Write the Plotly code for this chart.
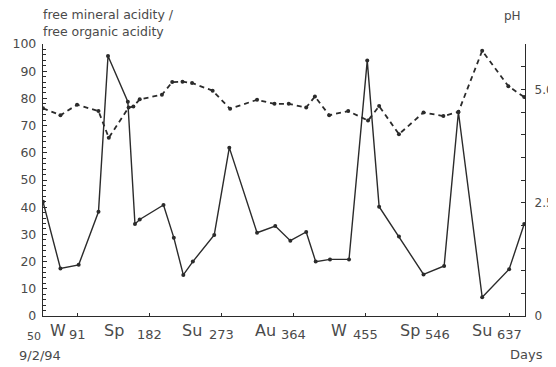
import plotly.graph_objects as go

# ---- data ----
days_acid = [48, 70, 93, 118, 130, 155, 164, 170, 200, 213, 225, 237, 264, 283, 318,
             341, 360, 380, 392, 410, 434, 457, 472, 497, 528, 554, 572, 602, 636, 655]
acid_ratio = [42.0, 17.5, 18.8, 38.3, 95.6, 78.8, 33.8, 35.5, 40.8, 28.8, 15.1, 20.0, 29.8,
              61.9, 30.6, 33.1, 27.7, 30.9, 20.0, 20.8, 20.8, 93.9, 40.2, 29.2, 15.3, 18.4,
              75.0, 6.9, 17.2, 33.8]

days_ph = [48, 70, 91, 118, 131, 156, 162, 170, 198, 211, 224, 236, 262, 284, 318, 340,
           358, 380, 391, 409, 433, 458, 472, 497, 528, 553, 572, 602, 635, 655]
ph = [4.58, 4.43, 4.66, 4.52, 3.93, 4.60, 4.62, 4.78, 4.88, 5.16, 5.17, 5.14, 4.97, 4.57,
      4.77, 4.68, 4.68, 4.60, 4.84, 4.43, 4.52, 4.31, 4.63, 4.01, 4.49, 4.41, 4.50, 5.85,
      5.07, 4.83]

day_ticks = [91, 182, 273, 364, 455, 546, 637]
day_labels = ["91", "182", "273", "364", "455", "546", "637"]
start_day, start_label = 48, "50"
season_days = [67, 137, 236, 329, 421, 511, 602]
season_labels = ["W", "Sp", "Su", "Au", "W", "Sp", "Su"]

left_ticks = [0, 10, 20, 30, 40, 50, 60, 70, 80, 90, 100]
right_ticks = [0, 2.5, 5.0]
right_labels = ["0", "2.5", "5.0"]

title_lines = ["free mineral acidity /", "free organic acidity"]

FONT = "DejaVu Sans"
INK = "#2b2b2b"
TXT = "#4a4a4a"

fig = go.Figure()
fig.add_trace(go.Scatter(
    x=days_acid, y=acid_ratio, mode="lines+markers",
    line=dict(color=INK, width=1.4),
    marker=dict(color=INK, size=4),
    showlegend=False, yaxis="y"))
fig.add_trace(go.Scatter(
    x=days_ph, y=ph, mode="lines+markers",
    line=dict(color=INK, width=1.8, dash="5px,4px"),
    marker=dict(color=INK, size=4),
    showlegend=False, yaxis="y2"))

annotations = []
for d, t in zip(day_ticks, day_labels):
    annotations.append(dict(x=d, y=0, xref="x", yref="paper", text=t, showarrow=False,
                            xanchor="center", yanchor="middle", yshift=-18,
                            font=dict(family=FONT, size=13, color=TXT)))
annotations.append(dict(x=start_day, y=0, xref="x", yref="paper", text=start_label,
                        showarrow=False, xanchor="right", yanchor="middle", yshift=-20,
                        font=dict(family=FONT, size=11, color=TXT)))
for d, t in zip(season_days, season_labels):
    annotations.append(dict(x=d, y=0, xref="x", yref="paper", text=t, showarrow=False,
                            xanchor="center", yanchor="middle", yshift=-14,
                            font=dict(family=FONT, size=16, color=TXT)))
annotations += [
    dict(x=0, y=0, xref="paper", yref="paper", text="9/2/94", showarrow=False,
         xanchor="right", yanchor="middle", xshift=20, yshift=-39,
         font=dict(family=FONT, size=13, color=TXT)),
    dict(x=1, y=0, xref="paper", yref="paper", text="Days", showarrow=False,
         xanchor="right", yanchor="middle", xshift=20, yshift=-38,
         font=dict(family=FONT, size=13, color=TXT)),
    dict(x=0, y=1, xref="paper", yref="paper", text=title_lines[0], showarrow=False,
         xanchor="left", yanchor="middle", xshift=-2, yshift=29.5,
         font=dict(family=FONT, size=12.5, color=TXT)),
    dict(x=0, y=1, xref="paper", yref="paper", text=title_lines[1], showarrow=False,
         xanchor="left", yanchor="middle", xshift=-2, yshift=13,
         font=dict(family=FONT, size=12.5, color=TXT)),
    dict(x=1, y=1, xref="paper", yref="paper", text="pH", showarrow=False,
         xanchor="right", yanchor="middle", xshift=-2, yshift=28,
         font=dict(family=FONT, size=12, color=TXT)),
]

# the page body keeps an 8px default margin, so the figure is 8px smaller
fig.update_layout(
    width=548, height=359,
    margin=dict(l=35, r=31, t=36, b=51),
    paper_bgcolor="white", plot_bgcolor="white",
    font=dict(family=FONT, color=TXT),
    annotations=annotations,
    xaxis=dict(range=[48, 656], showgrid=False, zeroline=False, automargin=False,
               showline=True, linecolor=INK, linewidth=1.4,
               tickmode="array", tickvals=day_ticks, showticklabels=False,
               ticks="inside", ticklen=3, tickcolor=INK),
    yaxis=dict(range=[0, 100], showgrid=False, zeroline=False, automargin=False,
               showline=True, linecolor=INK, linewidth=1.4,
               tickmode="array", tickvals=left_ticks,
               ticks="inside", ticklen=4, tickcolor=INK,
               minor=dict(dtick=2, ticks="inside", ticklen=3, tickcolor=INK),
               ticklabelstandoff=3,
               tickfont=dict(family=FONT, size=12.5, color=TXT)),
    yaxis2=dict(range=[0, 6], overlaying="y", side="right", showgrid=False,
                zeroline=False, automargin=False, showline=True, linecolor=INK,
                linewidth=1.4,
                tickmode="array", tickvals=right_ticks, ticktext=right_labels,
                ticks="inside", ticklen=4, tickcolor=INK,
                minor=dict(dtick=0.5, ticks="inside", ticklen=4, tickcolor=INK),
                ticklabelstandoff=6,
                tickfont=dict(family=FONT, size=12, color=TXT)),
)

fig.write_html("out.html")
